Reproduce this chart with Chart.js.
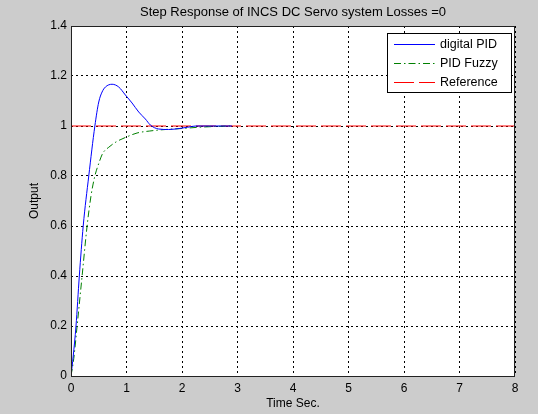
<!DOCTYPE html>
<html lang="en">
<head>
  <meta charset="UTF-8">
  <title>Step Response of INCS DC Servo system</title>
  <script src="https://cdn.jsdelivr.net/npm/chart.js"></script>
  <style>
    html, body {
      margin: 0;
      padding: 0;
      background: #cccccc;
    }
    #wrap {
      width: 538px;
      height: 414px;
    }
  </style>
</head>
<body>
  <div id="wrap"><canvas id="stepChart" width="538" height="414"></canvas></div>

  <script>
    // values
    const pidTime    = [0, 0.04, 0.09, 0.15, 0.22, 0.32, 0.43, 0.5, 0.56, 0.62, 0.74, 0.86, 0.98, 1.1, 1.22, 1.34, 1.43, 1.58, 1.76, 1.95, 2.1, 2.25, 2.5, 2.9];
    const pidOutput  = [0, 0.08, 0.2, 0.4, 0.6, 0.8, 1.0, 1.096, 1.136, 1.156, 1.167, 1.156, 1.124, 1.092, 1.056, 1.028, 1.004, 0.988, 0.986, 0.99, 0.995, 1.0, 1.0, 1.0];

    const fuzzyTime   = [0, 0.05, 0.11, 0.2, 0.29, 0.36, 0.43, 0.5, 0.57, 0.68, 0.81, 1.0, 1.19, 1.42, 1.7, 2.0, 2.3, 2.6, 2.9];
    const fuzzyOutput = [0, 0.07, 0.2, 0.4, 0.6, 0.72, 0.8, 0.85, 0.89, 0.915, 0.936, 0.956, 0.972, 0.98, 0.986, 0.99, 0.995, 0.998, 1.0];

    const refTime   = [0, 8];
    const refOutput = [1, 1];

    const seriesNames = ['digital PID', 'PID Fuzzy', 'Reference'];
    const xTickValues = [0, 1, 2, 3, 4, 5, 6, 7, 8];
    const yTickValues = [0, 0.2, 0.4, 0.6, 0.8, 1, 1.2, 1.4];

    const pairs = (xs, ys) => xs.map((x, i) => ({ x: x, y: ys[i] }));
    const FONT = "'Liberation Sans', Arial, sans-serif";

    Chart.defaults.color = '#000';
    Chart.defaults.font.family = FONT;
    Chart.defaults.font.size = 12;

    // white plot area + black box round it
    const plotBox = {
      id: 'plotBox',
      beforeDraw(chart) {
        const a = chart.chartArea, ctx = chart.ctx;
        ctx.save();
        ctx.fillStyle = '#fff';
        ctx.fillRect(a.left, a.top, a.right - a.left, a.bottom - a.top);
        ctx.restore();
      },
      afterDatasetsDraw(chart) {
        const a = chart.chartArea, ctx = chart.ctx;
        ctx.save();
        ctx.strokeStyle = '#222';
        ctx.lineWidth = 1;
        ctx.strokeRect(a.left + 0.5, a.top + 0.5, a.right - a.left - 1, a.bottom - a.top);
        ctx.restore();
      }
    };

    // matlab style legend box in the top right corner
    const boxLegend = {
      id: 'boxLegend',
      afterDraw(chart) {
        const a = chart.chartArea, ctx = chart.ctx;
        const w = 124, h = 59;
        const left = a.right - 4 - w, top = a.top + 7;
        ctx.save();
        ctx.fillStyle = '#fff';
        ctx.fillRect(left, top, w, h);
        ctx.strokeStyle = '#000';
        ctx.lineWidth = 1;
        ctx.strokeRect(left + 0.5, top + 0.5, w, h);
        ctx.font = '12.5px ' + FONT;
        ctx.textBaseline = 'middle';
        chart.data.datasets.forEach((ds, i) => {
          const y = top + 11 + i * 19 + 0.5;
          ctx.strokeStyle = ds.borderColor;
          ctx.setLineDash(ds.borderDash || []);
          ctx.beginPath();
          ctx.moveTo(left + 7, y);
          ctx.lineTo(left + 48, y);
          ctx.stroke();
          ctx.fillStyle = '#000';
          ctx.fillText(ds.label, left + 53, y);
        });
        ctx.restore();
      }
    };

    new Chart(document.getElementById('stepChart'), {
      type: 'line',
      data: {
        datasets: [{
          label: seriesNames[0],
          data: pairs(pidTime, pidOutput),
          borderColor: '#0000ff',
          borderWidth: 1,
          pointRadius: 0,
          cubicInterpolationMode: 'monotone'
        }, {
          label: seriesNames[1],
          data: pairs(fuzzyTime, fuzzyOutput),
          borderColor: '#008000',
          borderWidth: 1,
          borderDash: [7, 3, 1.5, 3],
          pointRadius: 0,
          cubicInterpolationMode: 'monotone'
        }, {
          label: seriesNames[2],
          data: pairs(refTime, refOutput),
          borderColor: '#ff0000',
          borderWidth: 1,
          borderDash: [20, 5],
          pointRadius: 0
        }]
      },
      options: {
        responsive: false,
        animation: false,
        layout: { padding: { left: 0, right: 23, top: 0, bottom: 0 } },
        plugins: {
          legend: { display: false },
          tooltip: { enabled: false },
          title: {
            display: true,
            text: 'Step Response of INCS DC Servo system Losses =0',
            fullSize: false,
            color: '#000',
            font: { size: 13, weight: 'normal', lineHeight: 1.2 },
            padding: { top: 5, bottom: 5.4 }
          }
        },
        scales: {
          x: {
            type: 'linear',
            min: 0,
            max: 8,
            afterBuildTicks: s => { s.ticks = xTickValues.map(v => ({ value: v })); },
            afterFit: s => { s.height = 38; },
            ticks: { padding: 5, maxRotation: 0, callback: v => String(+v.toFixed(2)) },
            grid: { color: '#000', drawTicks: false },
            border: { display: false, dash: [2, 3] },
            title: { display: true, text: 'Time Sec.', padding: { top: 0, bottom: 3 } }
          },
          y: {
            type: 'linear',
            min: 0,
            max: 1.4,
            afterBuildTicks: s => { s.ticks = yTickValues.map(v => ({ value: v })); },
            afterFit: s => { s.width = 71; },
            ticks: { padding: 4, callback: v => String(+v.toFixed(2)) },
            grid: { color: '#000', drawTicks: false },
            border: { display: false, dash: [2, 3] },
            title: { display: true, text: 'Output', padding: { top: 27, bottom: 0 } }
          }
        }
      },
      plugins: [plotBox, boxLegend]
    });
  </script>
</body>
</html>
